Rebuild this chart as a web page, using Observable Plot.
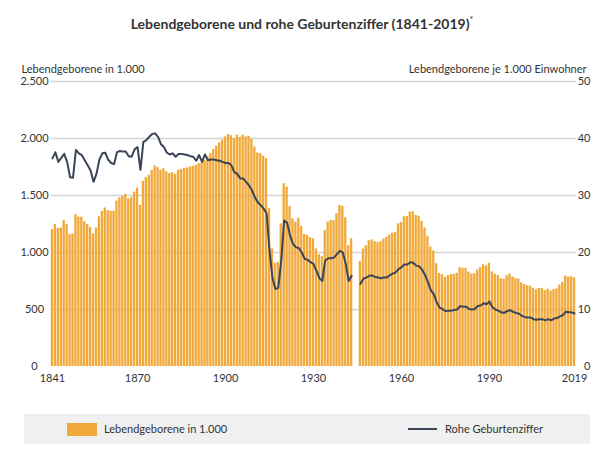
<!DOCTYPE html>
<html><head><meta charset="utf-8">
<script src="https://cdn.jsdelivr.net/npm/d3@7"></script>
<script src="https://cdn.jsdelivr.net/npm/@observablehq/plot@0.6"></script>
<style>
body{margin:0;background:#fff;font-family:"Lato",sans-serif;width:604px;height:449px;position:relative;overflow:hidden;}
#title{position:absolute;left:0;top:0;width:604px;height:40px;text-align:center;font-size:14px;font-weight:bold;color:#333;line-height:40px;}
#title sup{font-size:9px;font-weight:normal;}
#chart{position:absolute;left:0;top:40px;}
#legend{position:absolute;left:24px;top:414px;width:566px;height:30px;background:#f0f0f0;font-size:11px;color:#333;}
#legend .sw{position:absolute;left:43px;top:9px;width:30px;height:13px;background:#f0a93a;}
#legend .t1{position:absolute;left:80px;top:0;line-height:30px;}
#legend .ln{position:absolute;left:384px;top:14px;width:29px;height:2px;background:#3a4557;}
#legend .t2{position:absolute;left:421px;top:0;line-height:30px;}
</style></head>
<body>
<div id="title">Lebendgeborene und rohe Geburtenziffer (1841-2019)<sup>*</sup></div>
<div id="chart"></div>
<div id="legend"><div class="sw"></div><div class="t1">Lebendgeborene in 1.000</div><div class="ln"></div><div class="t2">Rohe Geburtenziffer</div></div>
<script>
const startYear = 1841;
// Lebendgeborene in 1.000 (null = keine Angabe)
const births = [
 1201,1245,1210,1215,1280,1245,1157,1163,1333,1310, // 1841-1850
 1310,1270,1245,1220,1163,1215,1313,1360,1390,1368, // 1851-1860
 1362,1362,1450,1480,1492,1510,1470,1480,1530,1565, // 1861-1870
 1413,1624,1657,1677,1721,1759,1745,1721,1736,1706, // 1871-1880
 1692,1701,1686,1721,1727,1736,1742,1750,1756,1765, // 1881-1890
 1780,1786,1810,1839,1868,1903,1932,1962,1985,2015, // 1891-1900
 2035,2025,2000,2029,2010,2029,2015,2020,1991,1926, // 1901-1910
 1873,1868,1844,1824,1384,1031,905,914,1252,1604,   // 1911-1920
 1574,1404,1296,1266,1301,1228,1158,1150,1129,1120, // 1921-1930
 1031,981,964,1193,1266,1281,1281,1340,1413,1404,   // 1931-1940
 1304,1060,1120,null,null,922,1031,1060,1104,1110,  // 1941-1950
 1095,1087,1095,1118,1133,1154,1170,1178,1252,1262, // 1951-1960
 1313,1317,1355,1357,1325,1318,1273,1215,1143,1048, // 1961-1970
 1014,902,816,806,782,798,806,808,818,866,          // 1971-1980
 862,861,828,812,814,848,867,892,881,906,           // 1981-1990
 830,809,798,770,765,796,812,785,771,767,           // 1991-2000
 734,719,707,706,686,673,685,683,665,678,           // 2001-2010
 663,674,682,715,738,792,785,788,778                // 2011-2019
];
// Rohe Geburtenziffer: Lebendgeborene je 1.000 Einwohner
const rate = [
 36.5,37.6,35.9,36.6,37.3,35.9,33.2,33.1,38.0,37.4, // 1841-1850
 37.1,36.2,35.3,34.4,32.4,33.8,36.3,37.4,37.5,36.3, // 1851-1860
 35.7,35.5,37.6,37.8,37.7,37.7,36.9,36.8,38.1,38.5, // 1861-1870
 34.5,39.4,39.7,40.3,40.8,40.9,40.3,39.0,38.5,37.5, // 1871-1880
 37.2,37.4,36.8,37.3,37.3,37.2,37.1,36.9,36.8,36.1, // 1881-1890
 37.1,35.9,37.2,36.2,36.3,36.3,36.2,36.1,35.9,35.7, // 1891-1900
 35.7,35.3,34.1,33.8,33.0,33.0,32.4,31.8,30.9,29.7, // 1901-1910
 28.8,28.3,27.7,26.9,20.4,15.6,13.6,13.8,18.6,25.6, // 1911-1920
 25.2,23.0,21.5,20.9,20.8,20.0,18.9,18.7,18.3,18.0, // 1921-1930
 16.8,15.5,15.0,18.6,19.0,19.0,19.1,19.7,20.3,20.0, // 1931-1940
 18.0,15.0,15.9,null,null,14.5,15.4,15.6,15.9,16.0, // 1941-1950
 15.7,15.6,15.5,15.6,15.6,16.0,16.3,16.5,17.1,17.4, // 1951-1960
 17.9,17.9,18.3,18.2,17.7,17.6,17.0,16.1,14.8,13.4, // 1961-1970
 12.7,11.3,10.3,10.1,9.7,9.8,9.8,9.9,10.0,10.6,     // 1971-1980
 10.5,10.5,10.1,10.0,10.1,10.6,10.7,11.1,10.9,11.4, // 1981-1990
 10.4,10.0,9.8,9.5,9.4,9.7,9.9,9.6,9.4,9.3,         // 1991-2000
 8.9,8.7,8.6,8.6,8.3,8.2,8.3,8.3,8.1,8.3,           // 2001-2010
 8.1,8.4,8.5,8.8,9.0,9.6,9.5,9.5,9.3                // 2011-2019
];
const leftTicks = [0, 500, 1000, 1500, 2000, 2500];
const rightTickLabels = [0, 10, 20, 30, 40, 50];
const xTicks = [1841, 1870, 1900, 1930, 1960, 1990, 2019];

const rows = births.map((b, i) => ({year: startYear + i, births: b, rate: rate[i]}));
const barRows = rows.filter(d => d.births != null);
const ratio = 2500 / 50; // right axis 0-50 mapped onto left axis 0-2500
const de = d3.formatLocale({decimal: ",", thousands: ".", grouping: [3], currency: ["", ""]}).format(",");

const chart = Plot.plot({
  width: 604,
  height: 360,
  marginTop: 41,
  marginBottom: 34,
  marginLeft: 50.5,
  marginRight: 28.5,
  style: {fontFamily: "Lato, sans-serif", fontSize: "11px", color: "#333", background: "transparent"},
  x: {type: "linear", domain: [1840.5, 2019.5]},
  y: {domain: [0, 2500]},
  marks: [
    Plot.gridY(leftTicks.filter(d => d > 0), {stroke: "#d4d4d4", strokeOpacity: 1, strokeWidth: 1.3}),
    Plot.rectY(barRows, {x1: d => d.year - 0.5, x2: d => d.year + 0.5, y: "births", fill: "#f0a93a", insetLeft: 0.3, insetRight: 0.3}),
    Plot.line(rows, {x: "year", y: d => d.rate == null ? NaN : d.rate * ratio, stroke: "#3a4557", strokeWidth: 2, curve: "linear"}),
    Plot.axisY(leftTicks, {anchor: "left", tickSize: 0, tickPadding: 16.5, textAnchor: "middle", tickFormat: de, label: null, fill: "#333"}),
    Plot.axisY(rightTickLabels.map(d => d * ratio), {anchor: "right", tickSize: 0, tickPadding: 14.5, textAnchor: "end", tickFormat: d => String(d / ratio), label: null, fill: "#333"}),
    Plot.axisX(xTicks, {tickSize: 0, tickPadding: 8, tickFormat: d => String(d), label: null, fill: "#333"}),
    Plot.text(["Lebendgeborene in 1.000"], {frameAnchor: "top-left", dx: -29.5, dy: -16, textAnchor: "start", fontSize: 11, fill: "#333"}),
    Plot.text(["Lebendgeborene je 1.000 Einwohner"], {frameAnchor: "top-right", dx: 10.5, dy: -16, textAnchor: "end", fontSize: 11, fill: "#333"})
  ]
});
document.getElementById("chart").appendChild(chart);
</script>
</body></html>
